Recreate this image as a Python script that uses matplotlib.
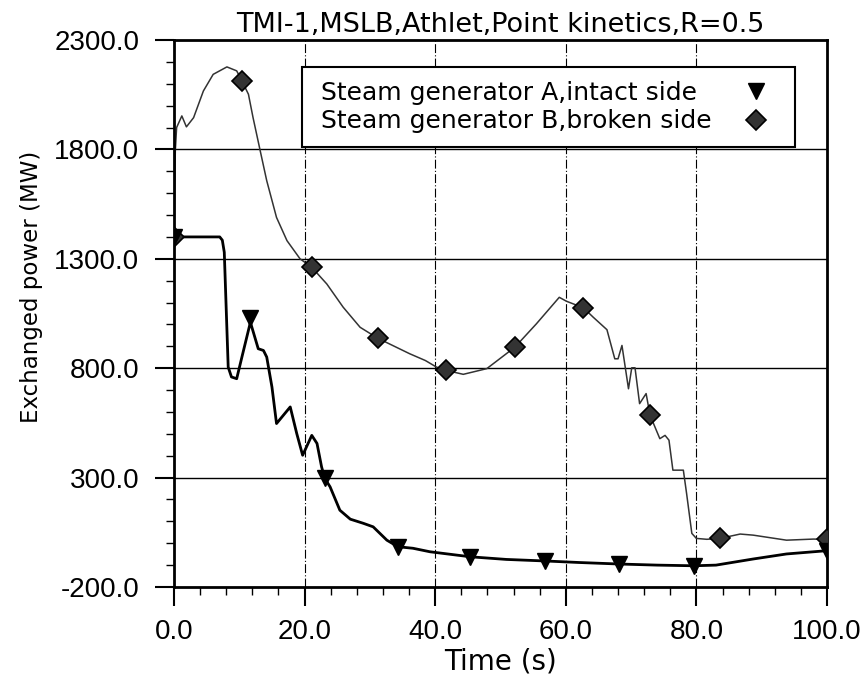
import matplotlib
matplotlib.use("Agg")
import matplotlib.pyplot as plt
from matplotlib.lines import Line2D
from matplotlib.legend_handler import HandlerLine2D
from matplotlib.ticker import FormatStrFormatter, MultipleLocator

# steam generator A, intact side (line)
t_a = [0, 7.0, 7.4, 7.7, 8.3, 8.8, 9.6, 10.4, 11.7, 12.9, 13.7, 14.2, 15.0, 15.7,
       17.8, 18.8, 19.7, 21.1, 21.9, 22.6, 23.1, 23.9, 25.4, 27.0, 29.0, 30.5,
       32.6, 34.3, 36.6, 39.2, 45.4, 50.9, 56.8, 62.0, 68.2, 74.0, 79.6, 83.0,
       88.7, 93.8, 100]
p_a = [1400, 1400, 1385, 1330, 805, 760, 752, 851, 1010, 889, 881, 851, 714, 547,
       623, 501, 402, 493, 456, 349, 296, 258, 151, 110, 91, 75,
       14, -16, -23, -39, -62, -74, -81, -88, -95, -100, -103, -100,
       -72, -49, -34]
# marker positions A
tm_a = [0, 11.7, 23.1, 34.3, 45.4, 56.8, 68.2, 79.6, 100]
pm_a = [1400, 1030, 296, -16, -62, -81, -95, -103, -34]

# steam generator B, broken side (line)
t_b = [0, 0.2, 0.4, 1.2, 1.9, 3.0, 4.5, 6.0, 8.1, 9.6, 10.4, 11.4, 12.1, 13.2,
       14.2, 15.7, 17.3, 19.3, 21.1, 23.4, 25.9, 28.5, 31.2, 36.1, 38.5, 40.2,
       41.7, 44.3, 47.9, 52.2, 55.5, 59.0, 60.1, 62.7, 64.2, 66.3, 67.5, 68.0,
       68.6, 69.1, 69.6, 70.1, 70.6, 71.3, 72.3, 72.9, 74.4, 75.2, 75.8, 76.4,
       78.0, 78.5, 79.3, 80.0, 81.6, 83.6, 86.7, 88.7, 93.8, 97.9, 100]
p_b = [1400, 1794, 1900, 1953, 1903, 1945, 2067, 2143, 2177, 2159, 2113, 2052, 1946, 1794,
       1657, 1489, 1383, 1300, 1261, 1185, 1079, 987, 937, 866, 835, 805,
       790, 772, 798, 896, 1003, 1124, 1106, 1076, 1033, 976, 843, 843,
       904, 805, 706, 802, 802, 638, 684, 585, 478, 493, 471, 334,
       334, 227, 45, 22, 18, 22, 42, 37, 14, 19, 18]
# marker positions B
tm_b = [0, 10.4, 21.1, 31.2, 41.7, 52.2, 62.7, 72.9, 83.6, 100]
pm_b = [1400, 2113, 1261, 937, 790, 896, 1076, 585, 22, 18]

x_ticks = [0, 20, 40, 60, 80, 100]
y_ticks = [-200, 300, 800, 1300, 1800, 2300]
labels = ["Steam generator A,intact side", "Steam generator B,broken side"]

fig = plt.figure(figsize=(8.67, 6.83), dpi=100)
ax = fig.add_axes([174/867, 96/683, 653/867, 547/683])

# grid: solid horizontal, dash-dot vertical
for y in y_ticks[1:-1]:
    ax.axhline(y, color="black", lw=1.0, zorder=1)
for x in x_ticks[1:-1]:
    ax.axvline(x, color="black", lw=0.8, ls=(0, (8, 2, 1, 2)), zorder=1)

ax.plot(t_b, p_b, color="#333333", lw=1.1, zorder=2)
ax.plot(t_a, p_a, color="black", lw=2.0, zorder=3)
ax.plot(tm_b, pm_b, ls="none", marker="D", ms=10, mfc="#333333", mec="black", mew=1.2, zorder=4)
ax.plot(tm_a, pm_a, ls="none", marker="v", ms=12, mfc="black", mec="black", zorder=5)

ax.set_xlim(0, 100)
ax.set_ylim(-200, 2300)
ax.set_xticks(x_ticks)
ax.set_yticks(y_ticks)
ax.xaxis.set_minor_locator(MultipleLocator(4))
ax.yaxis.set_minor_locator(MultipleLocator(100))
ax.xaxis.set_major_formatter(FormatStrFormatter("%.1f"))
ax.yaxis.set_major_formatter(FormatStrFormatter("%.1f"))
ax.tick_params(which="major", direction="out", length=14, width=1.5, labelsize=20, pad=9)
ax.tick_params(which="minor", direction="out", length=6, width=1.0)
ax.tick_params(axis="y", which="major", pad=11)
for lab in ax.get_xticklabels() + ax.get_yticklabels():
    lab.set_family("Liberation Sans")
for s in ax.spines.values():
    s.set_linewidth(2.0)

ax.set_title("TMI-1,MSLB,Athlet,Point kinetics,R=0.5", fontsize=19.5, family="DejaVu Sans", pad=6)
ax.set_ylabel("Exchanged power (MW)", fontsize=16.5, family="DejaVu Sans")
ax.yaxis.set_label_coords(-0.20, 0.548)
ax.set_xlabel("Time (s)", fontsize=20, family="DejaVu Sans", va="top")
ax.xaxis.set_label_coords(0.5, -0.11)

# legend: text column on the left, marker column on the right
blank = Line2D([], [], ls="none")
h_a = Line2D([], [], ls="none", marker="v", ms=12, mfc="black", mec="black")
h_b = Line2D([], [], ls="none", marker="D", ms=10, mfc="#333333", mec="black", mew=1.2)
mark_handler = HandlerLine2D(xpad=-1.56)
leg = ax.legend([blank, blank, h_a, h_b], labels + ["", ""], ncols=2,
                handler_map={h_a: mark_handler, h_b: mark_handler},
                loc="upper right", bbox_to_anchor=(795/867, (683-67)/683),
                bbox_transform=fig.transFigure, borderaxespad=0, fancybox=False,
                framealpha=1, edgecolor="black",
                prop={"family": "DejaVu Sans", "size": 18}, labelspacing=0.18,
                borderpad=0.55, handlelength=0, handletextpad=0.23, columnspacing=2.54)
leg.get_frame().set_linewidth(1.5)
leg.set_zorder(6)

fig.savefig("out.png", dpi=100)
